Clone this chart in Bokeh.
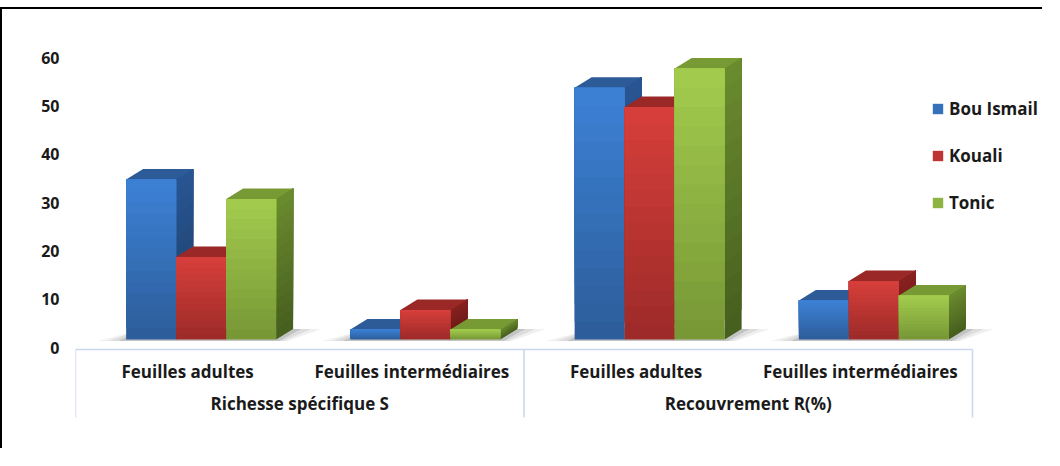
import numpy as np
from bokeh.plotting import figure
from bokeh.models import Range1d, FixedTicker, Legend, LegendItem, ColumnDataSource
from bokeh.core.properties import value
from bokeh.embed import file_html
from bokeh.resources import INLINE

# ---------------- data ----------------
categories = ["Feuilles adultes", "Feuilles intermédiaires",
              "Feuilles adultes", "Feuilles intermédiaires"]
groups = ["Richesse spécifique S", "Recouvrement R(%)"]
series = ["Bou Ismail", "Kouali", "Tonic"]
bou_ismail = [34, 3, 53, 9]
kouali = [18, 7, 49, 13]
tonic = [30, 3, 57, 10]
y_ticks = [0, 10, 20, 30, 40, 50, 60]

values = [bou_ismail, kouali, tonic]

# ---------------- geometry / style ----------------
W, H = 1042, 441
FL, FT, FB, FR = 73, 8, 18, 0
SLOT_PX = 224.25          # px per category slot
PPU = 4.8333              # px per value unit
Y0 = 330                  # px from frame top to value 0
frame_w = W - FL - FR
frame_h = H - FT - FB

def ux(px):
    return px / SLOT_PX

def uy(px):
    return px / PPU

x_end = frame_w / SLOT_PX
y_top = Y0 / PPU
y_bot = -(frame_h - Y0) / PPU

BAR_W = ux(50)
DX = ux(17)
DY = uy(10.5)
BASE = uy(8)      # front face floor
LIFT = 0.75       # projection offset of front top
CENTER_OFF = [ux(-36.5), ux(13.5), ux(63.5)]

styles = [
    dict(ft="#3c80d4", fb="#2d5e9b", st="#285592", sb="#1d3d66", tp="#2c5b97"),
    dict(ft="#d53e3a", fb="#9e2b29", st="#86211f", sb="#661817", tp="#9a2826"),
    dict(ft="#a2cb4d", fb="#789836", st="#6a8a2e", sb="#475f1f", tp="#789a35"),
]

def hex2rgb(h):
    h = h.lstrip("#")
    return np.array([int(h[i:i + 2], 16) for i in (0, 2, 4)], dtype=float)

def mix(a, b, t):
    c = hex2rgb(a) * (1 - t) + hex2rgb(b) * t
    return "#%02x%02x%02x" % tuple(int(round(v)) for v in c)

NSL = 14
FONT = "Open Sans"
TXT = "#1a1a1a"

p = figure(width=W, height=H, output_backend="svg", toolbar_location=None,
           x_range=Range1d(0, x_end), y_range=Range1d(y_bot, y_top),
           x_axis_type=None, min_border_left=FL, min_border_top=FT,
           min_border_bottom=FB, min_border_right=FR)
p.styles = {"border-left": "2px solid black", "border-top": "2px solid black",
            "margin-top": "7px"}
p.outline_line_color = None
p.xgrid.visible = False
p.ygrid.visible = False
p.background_fill_color = "white"
p.border_fill_color = "white"

yax = p.yaxis[0]
yax.ticker = FixedTicker(ticks=y_ticks)
yax.axis_line_color = None
yax.major_tick_line_color = None
yax.minor_tick_line_color = None
yax.major_tick_out = 0
yax.major_tick_in = 0
yax.minor_tick_out = 0
yax.major_label_standoff = 16
yax.major_label_text_font = FONT
yax.major_label_text_font_style = "bold"
yax.major_label_text_font_size = "16px"
yax.major_label_text_color = TXT

# ---------------- shadows ----------------
n_cat = len(categories)
for g in range(n_cat):
    L = g + 0.5 + CENTER_OFF[0] - BAR_W / 2
    R = g + 0.5 + CENTER_OFF[-1] + BAR_W / 2
    for k, (ext, a) in enumerate([(28, 0.10), (18, 0.14), (8, 0.22)]):
        xs = [L - ux(ext), R + ux(ext * 0.4), R + DX + ux(ext), L + DX]
        ys = [BASE - uy(1.5), BASE - uy(1.5), BASE + DY, BASE + DY]
        p.patch(xs, ys, fill_color="#6a6a6a", fill_alpha=a, line_color=None)

# ---------------- 3D bars ----------------
side_xs, side_ys, side_c = [], [], []
top_xs, top_ys, top_c = [], [], []
fronts = []

for s in range(len(series)):
    st = styles[s]
    fl, fr, fb, ftp, fc = [], [], [], [], []
    for g in range(n_cat):
        v = values[s][g]
        xc = g + 0.5 + CENTER_OFF[s]
        l, r = xc - BAR_W / 2, xc + BAR_W / 2
        t = v + LIFT
        for k in range(NSL):
            f = k / (NSL - 1)
            b = BASE + (t - BASE) * k / NSL
            side_xs.append([r, r, r + DX, r + DX])
            side_ys.append([b, t, t + DY, b + DY])
            side_c.append(mix(st["sb"], st["st"], f))
            fl.append(l); fr.append(r); fb.append(b); ftp.append(t)
            fc.append(mix(st["fb"], st["ft"], f))
        top_xs.append([l, r, r + DX, l + DX])
        top_ys.append([t, t, t + DY, t + DY])
        top_c.append(st["tp"])
    fronts.append(dict(l=fl, r=fr, b=fb, t=ftp, c=fc))

p.patches(xs="xs", ys="ys", fill_color="c", line_color=None,
          source=ColumnDataSource(dict(xs=side_xs, ys=side_ys, c=side_c)))
p.patches(xs="xs", ys="ys", fill_color="c", line_color=None,
          source=ColumnDataSource(dict(xs=top_xs, ys=top_ys, c=top_c)))
front_renderers = []
for s in range(len(series)):
    r = p.quad(left="l", right="r", bottom="b", top="t", fill_color="c", line_color=None,
               source=ColumnDataSource(fronts[s]))
    front_renderers.append(r)

# ---------------- category box ----------------
BOX_TOP = uy(-2)
BOX_BOT = uy(-70)
n_grp = len(groups)
per = n_cat // n_grp
p.segment(x0=[0], x1=[n_cat], y0=[BOX_TOP], y1=[BOX_TOP], line_color="#c9d6ee", line_width=1.5)
bx = [i * per for i in range(n_grp + 1)]
p.segment(x0=bx, x1=bx, y0=[BOX_TOP] * len(bx), y1=[BOX_BOT] * len(bx),
          line_color="#c9d6ee", line_width=1.5)

p.text(x=[i + 0.5 for i in range(n_cat)], y=[uy(-24)] * n_cat, text=categories,
       text_font=value(FONT), text_font_style="bold", text_font_size="17px",
       text_align="center", text_baseline="middle", text_color=TXT)
p.text(x=[i * per + per / 2 for i in range(n_grp)], y=[uy(-56)] * n_grp, text=groups,
       text_font=value(FONT), text_font_style="bold", text_font_size="17px",
       text_align="center", text_baseline="middle", text_color=TXT)

# ---------------- legend ----------------
items = [LegendItem(label=name, renderers=[front_renderers[s]], index=NSL // 2)
         for s, name in enumerate(series)]
leg = Legend(items=items, location=(856, 218), orientation="vertical",
             glyph_width=13, glyph_height=13, label_height=20, spacing=24,
             label_standoff=5, padding=0, margin=0,
             border_line_color=None, background_fill_alpha=0,
             label_text_font=FONT, label_text_font_style="bold",
             label_text_font_size="17px", label_text_color=TXT)
p.add_layout(leg, "center")

open("out.html", "w").write(file_html(p, INLINE))
